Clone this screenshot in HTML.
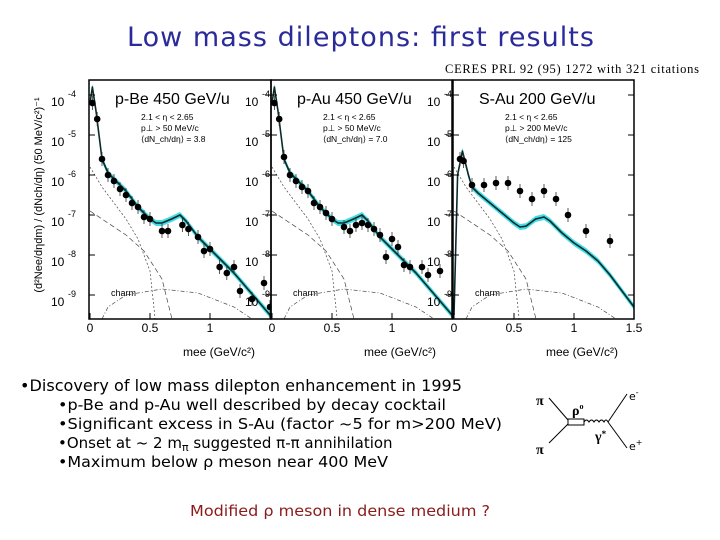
<!DOCTYPE html>
<html><head><meta charset="utf-8"><style>
body{margin:0;background:#fff;}
svg{display:block;}
.t{font-family:"DejaVu Sans","Liberation Sans",sans-serif;}
.s{font-family:"Liberation Serif",serif;}
</style></head><body>
<svg id="c" width="720" height="540" viewBox="0 0 720 540" xmlns="http://www.w3.org/2000/svg">
<text class="t" x="127" y="46" font-size="27" fill="#2a2a9a" textLength="467" lengthAdjust="spacing">Low mass dileptons: first  results</text>
<text class="s" x="445" y="73" font-size="12.5" fill="#000" textLength="254">CERES PRL 92 (95) 1272 with 321 citations</text>
<g id="plots"></g>
<text class="t" x="20" y="391" font-size="16" fill="#000" textLength="442" lengthAdjust="spacingAndGlyphs">•Discovery of low mass dilepton enhancement in 1995</text>
<g class="t" font-size="15" fill="#000">
<text x="58" y="410" textLength="388" lengthAdjust="spacingAndGlyphs">•p-Be and p-Au well described by decay cocktail</text>
<text x="58" y="429" textLength="444" lengthAdjust="spacingAndGlyphs">•Significant excess in S-Au (factor ~5 for m&gt;200 MeV)</text>
<text x="58" y="448">•Onset at ~ 2 m<tspan font-size="11" dy="3">π</tspan><tspan dy="-3">  suggested π-π annihilation</tspan></text>
<text x="58" y="467" textLength="330" lengthAdjust="spacingAndGlyphs">•Maximum below ρ meson near 400 MeV</text>
</g>
<text class="t" x="190" y="516" font-size="15" fill="#8b1a1a" textLength="300" lengthAdjust="spacingAndGlyphs">Modified ρ meson in dense medium ?</text>
<g stroke="#000" fill="none" stroke-width="1">
<line x1="549" y1="398" x2="568" y2="420"/><line x1="549" y1="443" x2="568" y2="424"/>
<rect x="568" y="419" width="16" height="6" fill="#fff"/>
<path d="M584,422 q2.5,-4 5,0 q2.5,-4 5,0 q2.5,-4 5,0 q2.5,-4 5,0 q2,-4 4,0"/>
<line x1="608" y1="422" x2="627" y2="394"/><line x1="608" y1="422" x2="627" y2="448"/>
</g>
<g class="s" font-weight="bold" font-size="14" fill="#000">
<text x="536" y="405">π</text><text x="536" y="454">π</text>
<text x="572" y="415">ρ<tspan font-size="8" dy="-6">o</tspan></text>
<text x="595" y="441">γ<tspan font-size="9" dy="-4">*</tspan></text>
</g>
<text class="t" x="629" y="400" font-size="11">e<tspan font-size="8" dy="-5">-</tspan></text>
<text class="t" x="629" y="450" font-size="11">e<tspan font-size="8" dy="-5">+</tspan></text>
</svg>
<script>
// data (mass in GeV, log10 of yield)
const panelNames = ["p-Be 450 GeV/u","p-Au 450 GeV/u","S-Au 200 GeV/u"];
const panelCuts = [["2.1 < η < 2.65","p⊥ > 50 MeV/c","⟨dN_ch/dη⟩ = 3.8"],["2.1 < η < 2.65","p⊥ > 50 MeV/c","⟨dN_ch/dη⟩ = 7.0"],["2.1 < η < 2.65","p⊥ > 200 MeV/c","⟨dN_ch/dη⟩ = 125"]];
const xTicks = [0,0.5,1,1.5];
const yTicks = [-4,-5,-6,-7,-8,-9];
const cocktailM1 = [0,0.02,0.05,0.1,0.15,0.2,0.3,0.4,0.5,0.55,0.6,0.68,0.75,0.8,0.9,1.0,1.1,1.2,1.3,1.4,1.5];
const cocktailY1 = [-4.2,-3.8,-4.4,-5.6,-5.95,-6.1,-6.4,-6.8,-7.1,-7.2,-7.2,-7.1,-7.0,-7.15,-7.55,-7.85,-8.15,-8.45,-8.8,-9.15,-9.5];
const cocktailY2 = [-4.2,-3.8,-4.4,-5.6,-5.95,-6.1,-6.4,-6.8,-7.1,-7.2,-7.2,-7.1,-7.0,-7.15,-7.55,-7.85,-8.15,-8.45,-8.8,-9.15,-9.5];
const cocktailM3 = [0,0.03,0.07,0.12,0.15,0.2,0.3,0.4,0.5,0.55,0.6,0.68,0.75,0.8,0.9,1.0,1.1,1.2,1.3,1.4,1.5];
const cocktailY3 = [-9.5,-6.0,-5.4,-6.0,-6.3,-6.45,-6.7,-6.95,-7.2,-7.3,-7.28,-7.1,-7.05,-7.15,-7.45,-7.7,-7.9,-8.15,-8.5,-8.9,-9.3];
const dataM1 = [0.02,0.06,0.1,0.15,0.2,0.25,0.3,0.35,0.4,0.45,0.5,0.6,0.65,0.77,0.82,0.9,0.95,1.0,1.08,1.14,1.2,1.25,1.35,1.45,1.5];
const dataY1 = [-4.2,-4.6,-5.6,-6.0,-6.15,-6.35,-6.5,-6.7,-6.8,-7.05,-7.1,-7.4,-7.4,-7.25,-7.35,-7.55,-7.9,-7.85,-8.3,-8.45,-8.3,-8.9,-9.1,-8.7,-9.3];
const dataM2 = [0.02,0.06,0.1,0.15,0.2,0.25,0.3,0.35,0.4,0.45,0.5,0.6,0.65,0.7,0.75,0.8,0.85,0.9,0.95,1.0,1.05,1.1,1.15,1.25,1.3,1.4];
const dataY2 = [-4.2,-4.6,-5.55,-6.0,-6.15,-6.3,-6.4,-6.7,-6.8,-6.95,-7.1,-7.3,-7.4,-7.25,-7.2,-7.25,-7.35,-7.5,-8.05,-7.6,-7.8,-8.25,-8.3,-8.3,-8.5,-8.4];
const dataM3 = [0.05,0.08,0.15,0.25,0.35,0.45,0.55,0.65,0.75,0.85,0.95,1.1,1.3];
const dataY3 = [-5.6,-5.65,-6.25,-6.25,-6.2,-6.2,-6.4,-6.6,-6.4,-6.6,-7.0,-7.4,-7.65];
const charmM = [0,0.15,0.3,0.6,0.9,1.2,1.5];
const charmY = [-10.2,-9.3,-9.0,-8.85,-8.95,-9.3,-9.9];
const etaM = [0.0,0.1,0.2,0.3,0.4,0.5,0.55];
const etaY = [-5.8,-6.3,-6.7,-7.1,-7.6,-8.4,-9.8];
const omegaM = [0.0,0.15,0.3,0.45,0.6,0.7];
const omegaY = [-6.9,-7.2,-7.5,-7.9,-8.6,-9.8];

const panels = [
 {x0:89, x1:271, cm:cocktailM1, cy:cocktailY1, dm:dataM1, dy:dataY1},
 {x0:271, x1:452, cm:cocktailM1, cy:cocktailY2, dm:dataM2, dy:dataY2},
 {x0:453, x1:634, cm:cocktailM3, cy:cocktailY3, dm:dataM3, dy:dataY3}
];
const frameTop=80, frameBot=319;
const NS="http://www.w3.org/2000/svg";
const plotG=document.getElementById('plots');
function mk(tag,attrs,parent){const e=document.createElementNS(NS,tag);for(const k in attrs)e.setAttribute(k,attrs[k]);(parent||plotG).appendChild(e);return e;}
function yS(v){return 95+(-4-v)*40;}
panels.forEach((p,i)=>{
  const xS=m=>p.x0+1+m*120;
  const pg=mk('g',{});
  
  
  const cp=mk('clipPath',{id:'cp'+i},pg);
  mk('rect',{x:p.x0,y:frameTop,width:p.x1-p.x0,height:frameBot-frameTop},cp);
  const inner=mk('g',{'clip-path':'url(#cp'+i+')'},pg);
  let up='',dn='';
  p.cm.forEach((m,k)=>{up+=(k?'L':'M')+xS(m)+','+(yS(p.cy[k])-3);});
  for(let k=p.cm.length-1;k>=0;k--)dn+='L'+xS(p.cm[k])+','+(yS(p.cy[k])+3);
  const band=mk('path',{d:up+dn+'Z',fill:'#22d6e0',opacity:'0.85'},inner);
  
  
  [[charmM,charmY,'4 2 1 2','charm-curve'],[etaM,etaY,'2 2','eta-dalitz-curve'],[omegaM,omegaY,'5 3','omega-dalitz-curve']].forEach(([ms,ys,da,name])=>{
    let cd='';ms.forEach((m,k)=>{cd+=(k?'L':'M')+xS(m)+','+yS(ys[k]);});
    const ch=mk('path',{d:cd,fill:'none',stroke:'#444','stroke-dasharray':da,'stroke-width':'0.7'},inner);
    
    
  });
  let d='';p.cm.forEach((m,k)=>{d+=(k?'L':'M')+xS(m)+','+yS(p.cy[k]);});
  const line=mk('path',{d:d,fill:'none',stroke:'#0a2a2a','stroke-width':'1.6','stroke-linejoin':'round'},inner);
  
  
  p.dm.forEach((m,k)=>{
    const cx=xS(m),cy=yS(p.dy[k]);
    mk('line',{x1:cx,x2:cx,y1:cy-7,y2:cy+7,stroke:'#333','stroke-width':'0.8'},inner);
    const c=mk('circle',{cx:cx,cy:cy,r:3.3,fill:'#000'},inner);
    
    
  });
  mk('rect',{x:p.x0,y:frameTop,width:p.x1-p.x0,height:frameBot-frameTop,fill:'none',stroke:'#000','stroke-width':'1.5'},pg);
  xTicks.forEach(t=>{const x=xS(t);if(x>p.x1+2)return;
    mk('line',{x1:x,x2:x,y1:frameBot,y2:frameBot-6,stroke:'#000'},pg);
    const tl=mk('text',{x:x,y:frameBot+13,'font-size':'12','text-anchor':'middle','font-family':'Liberation Sans,sans-serif'},pg);
    tl.textContent=(i<2&&t===1.5)?'':String(t);
    
    
  });
  yTicks.forEach(t=>{const y=yS(t);
    mk('line',{x1:p.x0,x2:p.x0+6,y1:y,y2:y,stroke:'#000'},pg);
    mk('line',{x1:p.x1,x2:p.x1-6,y1:y,y2:y,stroke:'#000'},pg);
    const lx=p.x0-(i===0?40:28);
    const tl=mk('text',{x:lx+2,y:y+11,'font-size':'12','font-family':'Liberation Sans,sans-serif'},pg);
    tl.textContent='10';
    
    
    const te=mk('text',{x:lx+19,y:y+2,'font-size':'9','font-family':'Liberation Sans,sans-serif'},pg);
    te.textContent=String(t);
  });
  const nm=mk('text',{x:p.x0+26,y:104,'font-size':'16','font-family':'Liberation Sans,sans-serif'},pg);
  nm.textContent=panelNames[i];
  
  
  panelCuts[i].forEach((s,k)=>{const ct=mk('text',{x:p.x0+52,y:120+k*11,'font-size':'8.5','font-family':'Liberation Sans,sans-serif'},pg);ct.textContent=s;});
  const lab=mk('text',{x:p.x0+22,y:296,'font-size':'9','font-family':'Liberation Sans,sans-serif'},pg);
  lab.textContent='charm';
  const xl=mk('text',{x:p.x1-88,y:356,'font-size':'12','font-family':'Liberation Sans,sans-serif'},pg);
  xl.textContent='mee (GeV/c²)';
  
  
});
const yl=mk('text',{x:0,y:0,'font-size':'11','font-family':'Liberation Sans,sans-serif','text-anchor':'middle',transform:'translate(42,195) rotate(-90)'});
yl.textContent='(d²Nee/dηdm) / (dNch/dη) (50 MeV/c²)⁻¹';


</script>
</body></html>
